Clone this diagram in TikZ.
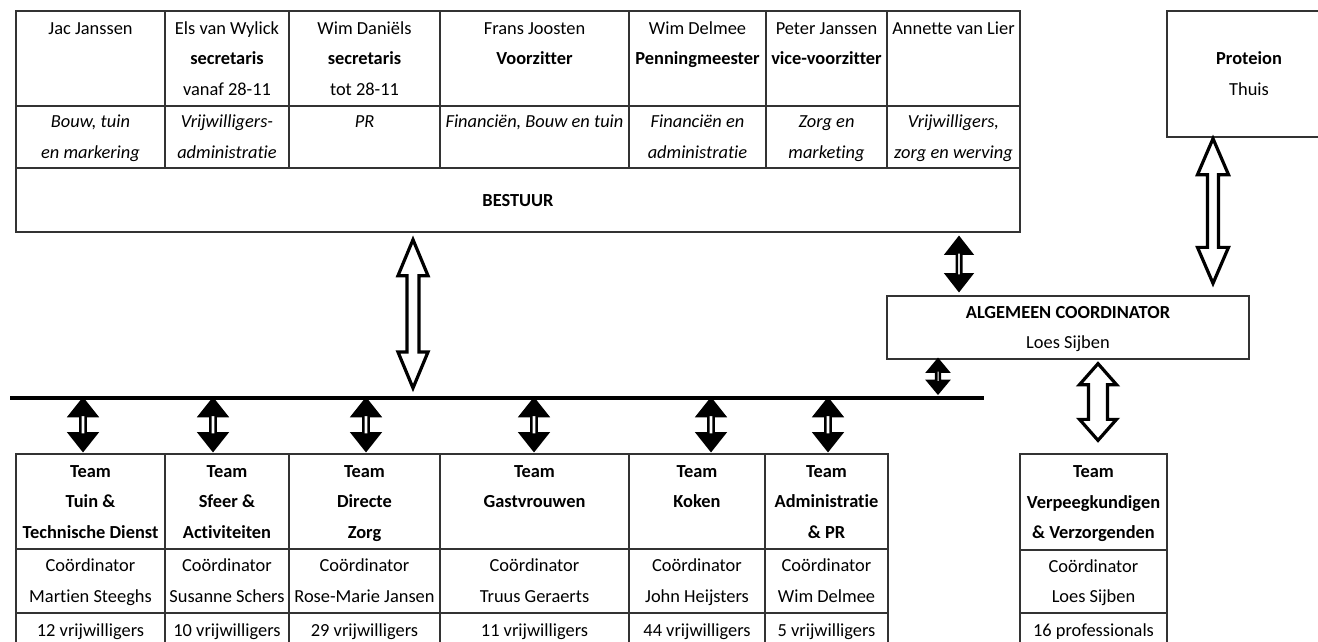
\documentclass[tikz,border=0pt]{standalone}
\usepackage{fontspec}
\setmainfont{Carlito}[Ligatures=NoCommon]
\usetikzlibrary{calc}
\tikzset{
  cell/.style={draw=black!80, line width=1.3pt, inner sep=0pt, align=center,
    font=\fontsize{18.4}{30.5}\selectfont},
  hollow/.style={draw=black, fill=white, line width=3.2pt, line join=miter},
  smallarrow/.style={draw=black, fill=white, line width=2.6pt, line join=miter},
  busline/.style={draw=black, line width=4pt}
}
% name, x1, x2, y1, y2, text
\newcommand{\tcell}[6]{\node[cell,minimum width={(#3-#2)*1pt},minimum height={(#5-#4)*1pt}] (#1) at ({(#2+#3)/2},{(#4+#5)/2}) {#6};}
% hollow double arrow: top point, bottom point, shaft half width, head half width, head length
\newcommand{\vdarrow}[5]{%
  \draw[hollow] let \p1=(#1), \p2=(#2) in
    (\x1,\y1) -- ({\x1+#4},{\y1-#5}) -- ({\x1+#3},{\y1-#5}) -- ({\x1+#3},{\y2+#5})
    -- ({\x1+#4},{\y2+#5}) -- (\x1,\y2) -- ({\x1-#4},{\y2+#5}) -- ({\x1-#3},{\y2+#5})
    -- ({\x1-#3},{\y1-#5}) -- ({\x1-#4},{\y1-#5}) -- cycle;}
% double arrow with solid heads and hollow shaft
\newcommand{\vdsolid}[5]{%
  \draw[smallarrow] let \p1=(#1), \p2=(#2) in
    (\x1,\y1) -- ({\x1+#4},{\y1-#5}) -- ({\x1+#3},{\y1-#5}) -- ({\x1+#3},{\y2+#5})
    -- ({\x1+#4},{\y2+#5}) -- (\x1,\y2) -- ({\x1-#4},{\y2+#5}) -- ({\x1-#3},{\y2+#5})
    -- ({\x1-#3},{\y1-#5}) -- ({\x1-#4},{\y1-#5}) -- cycle;
  \fill[black] let \p1=(#1), \p2=(#2) in
    (\x1,\y1) -- ({\x1+#4},{\y1-#5}) -- ({\x1-#4},{\y1-#5}) -- cycle
    (\x1,\y2) -- ({\x1+#4},{\y2+#5}) -- ({\x1-#4},{\y2+#5}) -- cycle;}
\begin{document}
\begin{tikzpicture}[x=1pt,y=-1pt]
\useasboundingbox (0,0) rectangle (1318,642);
% ---------------- BESTUUR table
\tcell{b11}{16}{165}{11}{106}{\strut Jac Janssen\\\strut\\\strut}
\tcell{b12}{165}{289}{11}{106}{\strut Els van Wylick\\\strut\textbf{secretaris}\\\strut vanaf 28-11}
\tcell{b13}{289}{440}{11}{106}{\strut Wim Daniëls\\\strut\textbf{secretaris}\\\strut tot 28-11}
\tcell{b14}{440}{629}{11}{106}{\strut Frans Joosten\\\strut\textbf{Voorzitter}\\\strut}
\tcell{b15}{629}{766}{11}{106}{\strut Wim Delmee\\\strut\textbf{Penningmeester}\\\strut}
\tcell{b16}{766}{887}{11}{106}{\strut Peter Janssen\\\strut\textbf{vice-voorzitter}\\\strut}
\tcell{b17}{887}{1020}{11}{106}{\strut Annette van Lier\\\strut\\\strut}
\tcell{b21}{16}{165}{106}{168}{\strut\textit{Bouw, tuin}\\\strut\textit{en markering}}
\tcell{b22}{165}{289}{106}{168}{\strut\textit{Vrijwilligers-}\\\strut\textit{administratie}}
\tcell{b23}{289}{440}{106}{168}{\strut\textit{PR}\\\strut}
\tcell{b24}{440}{629}{106}{168}{\strut\textit{Financiën, Bouw en tuin}\\\strut}
\tcell{b25}{629}{766}{106}{168}{\strut\textit{Financiën en}\\\strut\textit{administratie}}
\tcell{b26}{766}{887}{106}{168}{\strut\textit{Zorg en}\\\strut\textit{marketing}}
\tcell{b27}{887}{1020}{106}{168}{\strut\textit{Vrijwilligers,}\\\strut\textit{zorg en werving}}
\tcell{bestuur}{16}{1020}{168}{232}{\strut\textbf{BESTUUR}}
% ---------------- Proteion
\tcell{proteion}{1167}{1331}{11}{137}{\strut\textbf{Proteion}\\\strut Thuis}
% ---------------- Algemeen coordinator
\tcell{coord}{887}{1249}{296}{359}{\strut\textbf{ALGEMEEN COORDINATOR}\\\strut Loes Sijben}
% ---------------- Teams
\tcell{t11}{16}{165}{454}{549}{\strut\textbf{Team}\\\strut\textbf{Tuin \&}\\\strut\textbf{Technische Dienst}}
\tcell{t12}{165}{289}{454}{549}{\strut\textbf{Team}\\\strut\textbf{Sfeer \&}\\\strut\textbf{Activiteiten}}
\tcell{t13}{289}{440}{454}{549}{\strut\textbf{Team}\\\strut\textbf{Directe}\\\strut\textbf{Zorg}}
\tcell{t14}{440}{629}{454}{549}{\strut\textbf{Team}\\\strut\textbf{Gastvrouwen}\\\strut}
\tcell{t15}{629}{765}{454}{549}{\strut\textbf{Team}\\\strut\textbf{Koken}\\\strut}
\tcell{t16}{765}{888}{454}{549}{\strut\textbf{Team}\\\strut\textbf{Administratie}\\\strut\textbf{\& PR}}
\tcell{t21}{16}{165}{549}{613}{\strut Coördinator\\\strut Martien Steeghs}
\tcell{t22}{165}{289}{549}{613}{\strut Coördinator\\\strut Susanne Schers}
\tcell{t23}{289}{440}{549}{613}{\strut Coördinator\\\strut Rose-Marie Jansen}
\tcell{t24}{440}{629}{549}{613}{\strut Coördinator\\\strut Truus Geraerts}
\tcell{t25}{629}{765}{549}{613}{\strut Coördinator\\\strut John Heijsters}
\tcell{t26}{765}{888}{549}{613}{\strut Coördinator\\\strut Wim Delmee}
\tcell{t31}{16}{165}{613}{648}{\strut 12 vrijwilligers}
\tcell{t32}{165}{289}{613}{648}{\strut 10 vrijwilligers}
\tcell{t33}{289}{440}{613}{648}{\strut 29 vrijwilligers}
\tcell{t34}{440}{629}{613}{648}{\strut 11 vrijwilligers}
\tcell{t35}{629}{765}{613}{648}{\strut 44 vrijwilligers}
\tcell{t36}{765}{888}{613}{648}{\strut 5 vrijwilligers}
\tcell{v1}{1020}{1167}{454}{550}{\strut\textbf{Team}\\\strut\textbf{Verpeegkundigen}\\\strut\textbf{\& Verzorgenden}}
\tcell{v2}{1020}{1167}{550}{613}{\strut Coördinator\\\strut Loes Sijben}
\tcell{v3}{1020}{1167}{613}{648}{\strut 16 professionals}
% ---------------- bus line
\coordinate (busL) at (10,398);
\coordinate (busR) at (984,398);
\draw[busline] (busL) -- (busR);
% ---------------- arrow x positions
\coordinate (xa1) at (413,0);
\coordinate (xa2) at (1213,0);
\coordinate (xa3) at (959,0);
\coordinate (xa4) at (938,0);
\coordinate (xa5) at (1098,0);
\coordinate (xt1) at (83,0);
\coordinate (xt2) at (213,0);
\coordinate (xt3) at (366,0);
\coordinate (xt4) at (534,0);
\coordinate (xt5) at (711,0);
\coordinate (xt6) at (828,0);
% ---------------- arrows
\vdarrow{$(bestuur.south -| xa1)+(0,7)$}{$(busL -| xa1)+(0,-10)$}{6pt}{15pt}{36pt}
\vdarrow{$(proteion.south -| xa2)+(0,1)$}{$(coord.north -| xa2)+(0,-12)$}{5.5pt}{15.5pt}{36pt}
\vdarrow{$(coord.south -| xa5)+(0,4)$}{$(v1.north -| xa5)+(0,-13)$}{9.5pt}{18.5pt}{21pt}
\vdsolid{$(bestuur.south -| xa3)+(0,5)$}{$(coord.north -| xa3)+(0,-5)$}{2.2pt}{12.5pt}{16pt}
\vdsolid{$(coord.south -| xa4)+(0,0)$}{$(busL -| xa4)+(0,-5)$}{1.8pt}{10pt}{12pt}
\foreach \i in {1,...,6}{
  \vdsolid{$(busL -| xt\i)+(0,1)$}{$(t1\i.north -| xt\i)+(0,-3)$}{2.6pt}{13.5pt}{17pt}
}
\end{tikzpicture}
\end{document}
